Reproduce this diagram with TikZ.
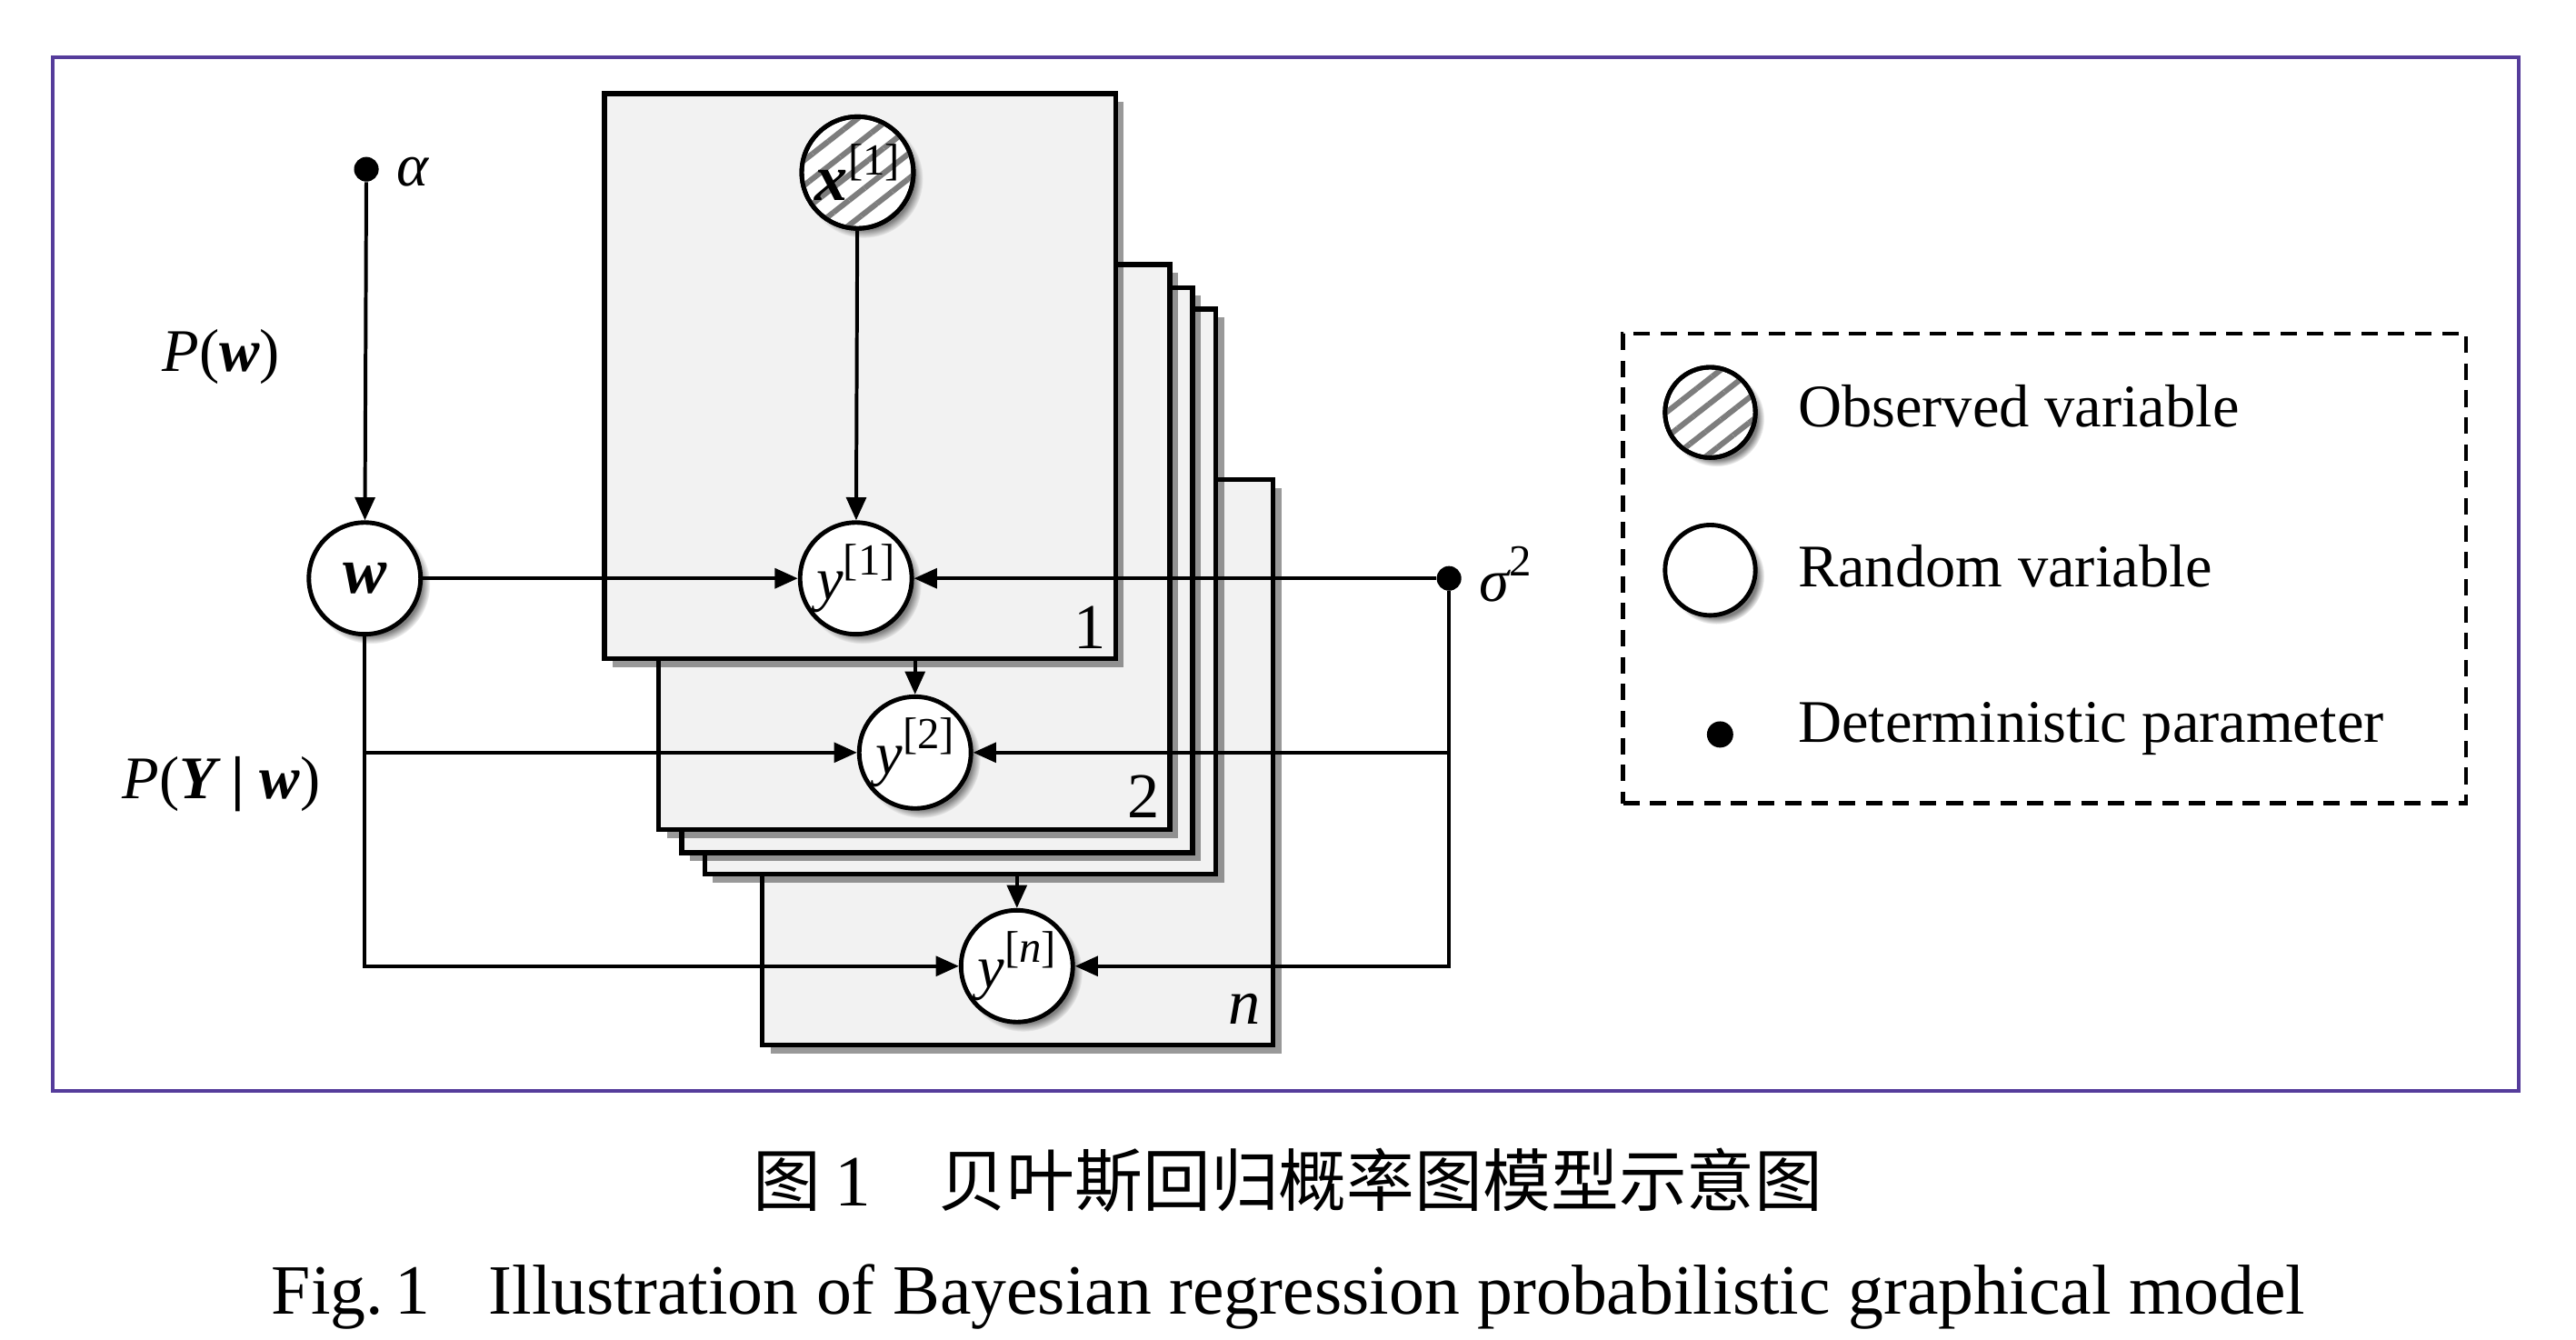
\documentclass[tikz,border=0pt]{standalone}
\usepackage{fontspec}
\setmainfont{Liberation Serif}
\newfontfamily\cjk{Noto Sans CJK SC}
\usetikzlibrary{arrows.meta,shadows,patterns.meta,calc}
\definecolor{framecol}{RGB}{85,60,155}
\definecolor{platefill}{RGB}{242,242,242}
\definecolor{hatch}{RGB}{125,125,125}
\newcommand\sps[1]{\raisebox{0.42em}{\fontsize{13.5}{14}\selectfont #1}}
\begin{document}
\begin{tikzpicture}[x=0.5pt,y=-0.5pt,
  every node/.style={inner sep=0pt,font=\fontsize{18.4}{22}\selectfont},
  plate/.style={draw=black, line width=1.5pt, fill=platefill, minimum width=155.5pt, minimum height=172pt,
    drop shadow={shadow xshift=2.5pt, shadow yshift=-2.5pt, opacity=0.4, fill=black}},
  rv/.style={circle, draw=black, line width=1.35pt, fill=white, minimum size=34pt,
    circular drop shadow={shadow xshift=1.8pt, shadow yshift=-1.8pt, shadow scale=1.06}},
  lrv/.style={rv, minimum size=27.5pt},
  hatched/.style={postaction={pattern={Lines[angle=38,distance=6pt,line width=1.7pt]}, pattern color=hatch},
    postaction={draw=black, line width=1.35pt}},
  dot/.style={circle, fill=black, minimum size=7.5pt},
  conn/.style={line width=1.1pt, draw=black},
  arr/.style={conn, -{Triangle[length=7pt,width=6pt]}},
  platenum/.style={anchor=base east, font=\fontsize{19.5}{22}\selectfont},
  txt/.style={anchor=base west},
]
% canvas
\fill[white] (0,0) rectangle (1568,815);
\useasboundingbox (0,0) rectangle (1568,815);
\draw[framecol, line width=1pt] (32,35) rectangle (1533,664);

% plates (back to front)
\node[plate] (pn) at (619.5,464) {};
\node[plate] (p4) at (584.5,360) {};
\node[plate] (p3) at (570.5,347) {};
\node[plate] (p2) at (556.5,333) {};
\node[plate] (p1) at (523.5,229) {};

\node[platenum] (n1) at ($(p1.south east)+(-7,-8)$) {1};
\node[platenum] (n2) at ($(p2.south east)+(-7,-9)$) {2};
\node[platenum] (nn) at ($(pn.south east)+(-9,-14)$) {\itshape n};

% variables
\node[rv] (w) at (222,352) {\fontsize{20}{22}\selectfont\bfseries\itshape w};
\node[rv,hatched] (x1) at (522,105) {{\fontsize{20}{22}\selectfont\bfseries\itshape x}\sps{[1]}};
\node[rv] (y1) at (521,352) {{\itshape y}\sps{[1]}};
\node[rv] (y2) at (557,458) {{\itshape y}\sps{[2]}};
\node[rv] (yn) at (619,588) {{\itshape y}\sps{[{\itshape n}]}};

% parameters
\node[dot] (alpha) at (223,103) {};
\node[txt] (alphalbl) at (241,113) {\itshape α};
\node[dot] (sigma) at (882,352) {};
\node[txt] (sigmalbl) at (900,366) {{\itshape σ}\sps{2}};

% distribution labels
\node[txt] (pw) at (98.5,226) {{\itshape P}({\bfseries\itshape w})};
\node[txt] (pyw) at (74,486) {{\itshape P}({\bfseries\itshape Y}\hspace{0.25em}{\bfseries |}\hspace{0.25em}{\bfseries\itshape w})};

% connectors
\draw[arr] (alpha) -- (w);
\draw[arr] (w) -- (y1);
\draw[arr] (x1) -- (y1);
\draw[arr] (sigma) -- (y1);
\draw[arr] (w.south) |- (y2);
\draw[arr] (w.south) |- (yn);
\draw[arr] (sigma) |- (y2);
\draw[arr] (sigma) |- (yn);
\draw[arr] (p1.south -| y2) -- (y2);
\draw[arr] (p4.south -| yn) -- (yn);

% legend
\node[draw=black, line width=1.3pt, dash pattern=on 5pt off 3.2pt, minimum width=256.5pt, minimum height=143pt] (legend) at (1244.5,346) {};
\node[lrv,hatched] (lobs) at (1041,251) {};
\node[txt] (lobst) at (1094,260) {Observed variable};
\node[lrv] (lrand) at (1041,347) {};
\node[txt] (lrandt) at (1094,357) {Random variable};
\node[dot, minimum size=8pt] (ldet) at (1047,447) {};
\node[txt] (ldett) at (1094,452) {Deterministic parameter};

% captions
\node[anchor=base west, font=\fontsize{20.7}{26}\selectfont\cjk] (capcn1) at (458,734) {图};
\node[anchor=base, font=\fontsize{22}{26}\selectfont] (capcn2) at (519,734) {1};
\node[anchor=base west, font=\fontsize{20.7}{26}\selectfont\cjk] (capcn3) at (571,734) {贝叶斯回归概率图模型示意图};
\node[anchor=base west, font=\fontsize{21.5}{25}\selectfont] (capen1) at (165,800) {Fig.\,1};
\node[anchor=base west, font=\fontsize{21.5}{25}\selectfont] (capen2) at (297,800) {Illustration of Bayesian regression probabilistic graphical model};
\end{tikzpicture}
\end{document}
